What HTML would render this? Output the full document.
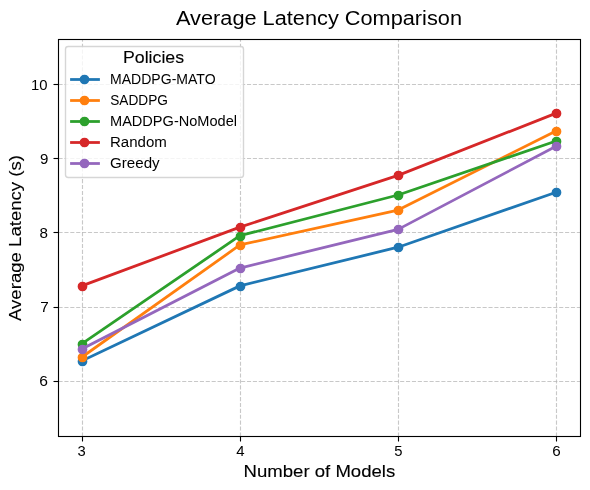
<!DOCTYPE html>
<html lang="en">
<head>
<meta charset="utf-8">
<title>Average Latency Comparison</title>
<style>
html,body{margin:0;padding:0;background:#fff;}
body{width:590px;height:490px;overflow:hidden;}
svg{display:block;will-change:transform;}
svg text{font-family:"Liberation Sans",sans-serif;fill:#000;}
svg text.w{stroke:#000;stroke-width:.12;}
.grid line{stroke:#b0b0b0;stroke-opacity:.7;stroke-width:1.11;stroke-dasharray:4.11 1.78;}
.axis line{stroke:#000;stroke-width:1.11;}
.series polyline{fill:none;stroke-width:2.78;stroke-linejoin:round;stroke-linecap:square;}
.series circle{stroke-width:1.39;}
</style>
</head>
<body>
<svg width="590" height="490" viewBox="0 0 590 490" role="img" aria-label="Average Latency Comparison line chart">
<rect x="0" y="0" width="590" height="490" fill="#ffffff"/>
<!-- dashed grid (drawn below the data lines) -->
<g class="grid">
<line x1="82.5" y1="436.5" x2="82.5" y2="39.5"/>
<line x1="240.5" y1="436.5" x2="240.5" y2="39.5"/>
<line x1="398.5" y1="436.5" x2="398.5" y2="39.5"/>
<line x1="556.5" y1="436.5" x2="556.5" y2="39.5"/>
<line x1="58.5" y1="381.5" x2="580.5" y2="381.5"/>
<line x1="58.5" y1="307.5" x2="580.5" y2="307.5"/>
<line x1="58.5" y1="232.5" x2="580.5" y2="232.5"/>
<line x1="58.5" y1="158.5" x2="580.5" y2="158.5"/>
<line x1="58.5" y1="84.5" x2="580.5" y2="84.5"/>
</g>
<!-- data series: unsnapped polylines with pixel-snapped circular markers -->
<g class="series" stroke="#1f77b4" fill="#1f77b4">
<polyline points="81.73,360.96 239.91,285.87 398.09,247.21 556.27,192.20"/>
<circle cx="82.5" cy="361.5" r="4.17"/>
<circle cx="240.5" cy="286.5" r="4.17"/>
<circle cx="398.5" cy="247.5" r="4.17"/>
<circle cx="556.5" cy="192.5" r="4.17"/>
</g>
<g class="series" stroke="#ff7f0e" fill="#ff7f0e">
<polyline points="81.73,357.24 239.91,244.98 398.09,210.04 556.27,130.87"/>
<circle cx="82.5" cy="357.5" r="4.17"/>
<circle cx="240.5" cy="245.5" r="4.17"/>
<circle cx="398.5" cy="210.5" r="4.17"/>
<circle cx="556.5" cy="131.5" r="4.17"/>
</g>
<g class="series" stroke="#2ca02c" fill="#2ca02c">
<polyline points="81.73,343.86 239.91,235.70 398.09,195.00 556.27,140.90"/>
<circle cx="82.5" cy="344.5" r="4.17"/>
<circle cx="240.5" cy="236.5" r="4.17"/>
<circle cx="398.5" cy="195.5" r="4.17"/>
<circle cx="556.5" cy="141.5" r="4.17"/>
</g>
<g class="series" stroke="#d62728" fill="#d62728">
<polyline points="81.73,285.87 239.91,227.14 398.09,175.40 556.27,113.15"/>
<circle cx="82.5" cy="286.5" r="4.17"/>
<circle cx="240.5" cy="227.5" r="4.17"/>
<circle cx="398.5" cy="175.5" r="4.17"/>
<circle cx="556.5" cy="113.5" r="4.17"/>
</g>
<g class="series" stroke="#9467bd" fill="#9467bd">
<polyline points="81.73,349.07 239.91,268.03 398.09,229.37 556.27,146.11"/>
<circle cx="82.5" cy="349.5" r="4.17"/>
<circle cx="240.5" cy="268.5" r="4.17"/>
<circle cx="398.5" cy="229.5" r="4.17"/>
<circle cx="556.5" cy="146.5" r="4.17"/>
</g>
<!-- axes frame and tick marks -->
<g class="axis">
<rect x="58.5" y="39.5" width="522.0" height="397.0" fill="none" stroke="#000" stroke-width="1.11"/>
<line x1="82.5" y1="436.5" x2="82.5" y2="441.5"/>
<line x1="240.5" y1="436.5" x2="240.5" y2="441.5"/>
<line x1="398.5" y1="436.5" x2="398.5" y2="441.5"/>
<line x1="556.5" y1="436.5" x2="556.5" y2="441.5"/>
<line x1="58.5" y1="381.5" x2="53.5" y2="381.5"/>
<line x1="58.5" y1="307.5" x2="53.5" y2="307.5"/>
<line x1="58.5" y1="232.5" x2="53.5" y2="232.5"/>
<line x1="58.5" y1="158.5" x2="53.5" y2="158.5"/>
<line x1="58.5" y1="84.5" x2="53.5" y2="84.5"/>
</g>
<!-- tick labels, title and axis labels -->
<g class="ticklabels">
<text x="77.43" y="456" font-size="14.58" textLength="8.21" lengthAdjust="spacingAndGlyphs">3</text>
<text x="236.35" y="456" font-size="14.58" textLength="8.33" lengthAdjust="spacingAndGlyphs">4</text>
<text x="394.38" y="456" font-size="14.58" textLength="8.23" lengthAdjust="spacingAndGlyphs">5</text>
<text x="552.33" y="456" font-size="14.58" textLength="8.45" lengthAdjust="spacingAndGlyphs">6</text>
<text x="39.32" y="386" font-size="14.58" textLength="8.68" lengthAdjust="spacingAndGlyphs">6</text>
<text x="40.35" y="312" font-size="14.58" textLength="8.52" lengthAdjust="spacingAndGlyphs">7</text>
<text x="39.40" y="238" font-size="14.58" textLength="8.45" lengthAdjust="spacingAndGlyphs">8</text>
<text x="40.04" y="164" font-size="14.58" textLength="8.38" lengthAdjust="spacingAndGlyphs">9</text>
<text x="31.00" y="90" font-size="14.58" textLength="16.53" lengthAdjust="spacingAndGlyphs">10</text>
</g>
<text x="176.00" y="25" font-size="20.42" textLength="286.00" lengthAdjust="spacingAndGlyphs">Average Latency Comparison</text>
<text x="243.63" y="477" font-size="17.3" class="w" textLength="151.60" lengthAdjust="spacingAndGlyphs">Number of Models</text>
<text x="0" y="0" font-size="17.3" class="w" textLength="166.01" lengthAdjust="spacingAndGlyphs" transform="translate(21 321.00) rotate(-90)">Average Latency (s)</text>
<!-- legend -->
<g class="legend">
<rect x="65.5" y="46.5" width="178.00" height="131.00" rx="2.78" ry="2.78" fill="#ffffff" fill-opacity="0.8" stroke="#cccccc" stroke-opacity="0.8" stroke-width="1.39"/>
<text x="122.94" y="63" font-size="17.3" class="w" textLength="61.14" lengthAdjust="spacingAndGlyphs">Policies</text>
<line x1="71.5" y1="79.5" x2="98.5" y2="79.5" stroke="#1f77b4" stroke-width="2.78" stroke-linecap="square"/>
<circle cx="84.5" cy="79.5" r="4.17" fill="#1f77b4" stroke="#1f77b4" stroke-width="1.39"/>
<text x="110.02" y="84" font-size="14.58" textLength="105.57" lengthAdjust="spacingAndGlyphs">MADDPG-MATO</text>
<line x1="71.5" y1="100.5" x2="98.5" y2="100.5" stroke="#ff7f0e" stroke-width="2.78" stroke-linecap="square"/>
<circle cx="84.5" cy="100.5" r="4.17" fill="#ff7f0e" stroke="#ff7f0e" stroke-width="1.39"/>
<text x="110.26" y="105" font-size="14.58" textLength="57.72" lengthAdjust="spacingAndGlyphs">SADDPG</text>
<line x1="71.5" y1="121.5" x2="98.5" y2="121.5" stroke="#2ca02c" stroke-width="2.78" stroke-linecap="square"/>
<circle cx="84.5" cy="121.5" r="4.17" fill="#2ca02c" stroke="#2ca02c" stroke-width="1.39"/>
<text x="110.00" y="126" font-size="14.58" textLength="127.03" lengthAdjust="spacingAndGlyphs">MADDPG-NoModel</text>
<line x1="71.5" y1="142.5" x2="98.5" y2="142.5" stroke="#d62728" stroke-width="2.78" stroke-linecap="square"/>
<circle cx="84.5" cy="142.5" r="4.17" fill="#d62728" stroke="#d62728" stroke-width="1.39"/>
<text x="110.00" y="147" font-size="14.58" textLength="56.91" lengthAdjust="spacingAndGlyphs">Random</text>
<line x1="71.5" y1="163.5" x2="98.5" y2="163.5" stroke="#9467bd" stroke-width="2.78" stroke-linecap="square"/>
<circle cx="84.5" cy="163.5" r="4.17" fill="#9467bd" stroke="#9467bd" stroke-width="1.39"/>
<text x="109.99" y="168" font-size="14.58" textLength="49.65" lengthAdjust="spacingAndGlyphs">Greedy</text>
</g>
</svg>
</body>
</html>
